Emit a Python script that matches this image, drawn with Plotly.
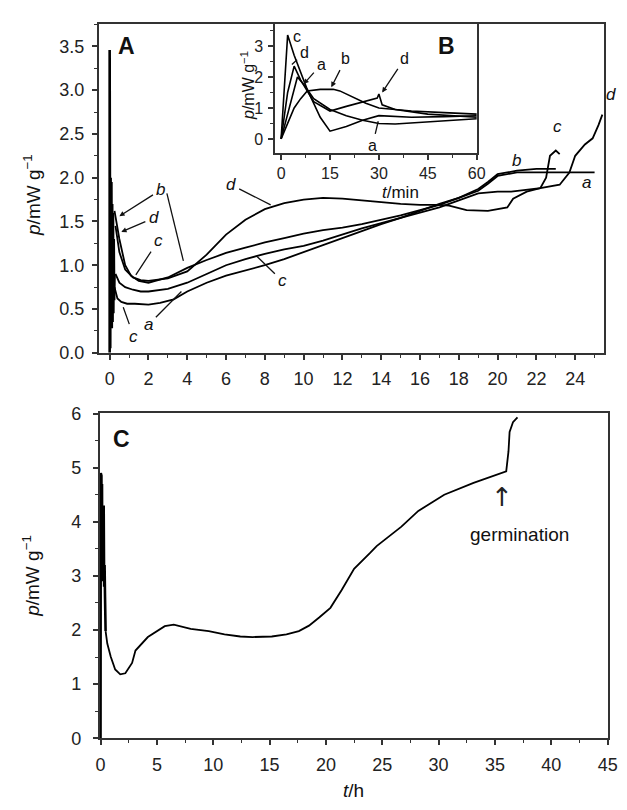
import plotly.graph_objects as go

# ---------------- Panel A (t in h) ----------------
spikeA_t = [0, 0, 0.03, 0.05, 0.07, 0.09, 0.11, 0.13, 0.15, 0.17, 0.19, 0.21, 0.23, 0.25]
spikeA_p = [0, 3.46, 0.05, 2.0, 0.3, 1.95, 0.28, 1.7, 0.35, 1.6, 0.45, 1.3, 0.6, 0.9]

a_t = [0.25, 0.4, 0.6, 0.9, 1.3, 2, 2.6, 3.3, 4, 5, 6, 7, 8, 9, 10, 11, 12, 13, 14, 15, 16, 17, 18, 19, 19.5, 20, 21, 22, 23, 24, 25]
a_p = [0.75, 0.62, 0.58, 0.56, 0.56, 0.55, 0.57, 0.61, 0.7, 0.8, 0.88, 0.94, 1.0, 1.07, 1.15, 1.23, 1.31, 1.39, 1.47, 1.54, 1.62, 1.70, 1.77, 1.85, 1.93, 2.02, 2.06, 2.06, 2.06, 2.06, 2.06]

b_t = [0.25, 0.5, 0.8, 1.1, 1.5, 2, 3, 4, 5, 6, 7, 8, 9, 10, 11, 12, 13, 14, 15, 16, 17, 18, 19, 19.5, 20, 21, 22, 23]
b_p = [1.62, 1.3, 1.0, 0.88, 0.82, 0.8, 0.86, 0.97, 1.06, 1.14, 1.2, 1.26, 1.31, 1.36, 1.40, 1.43, 1.47, 1.52, 1.57, 1.63, 1.69, 1.77, 1.87, 1.95, 2.04, 2.08, 2.1, 2.1]

c_t = [0.3, 0.5, 0.8, 1.2, 1.6, 2, 3, 4, 5, 6, 7, 8, 9, 10, 11, 12, 13, 14, 15, 16, 17, 18, 19, 20, 20.7, 22.2, 22.5, 22.7, 23.0, 23.2]
c_p = [0.9, 0.8, 0.75, 0.72, 0.7, 0.7, 0.73, 0.8, 0.9, 1.0, 1.07, 1.13, 1.18, 1.22, 1.28, 1.35, 1.42, 1.48, 1.54, 1.6, 1.66, 1.74, 1.82, 1.84, 1.84, 1.88, 2.0, 2.25, 2.31, 2.27]

d_t = [0.3, 0.5, 0.8, 1.2, 1.6, 2, 3, 4, 5, 6, 7, 8, 9, 10, 11, 12, 13, 14, 15, 16, 17, 17.5, 18.4, 19.5, 20.5, 20.8, 21.5, 22.2, 23.2, 23.7, 24, 24.5, 24.9, 25.2, 25.4]
d_p = [1.45, 1.15, 0.95, 0.86, 0.83, 0.82, 0.85, 0.93, 1.12, 1.35, 1.52, 1.64, 1.71, 1.75, 1.77, 1.76, 1.74, 1.72, 1.70, 1.69, 1.69, 1.68, 1.63, 1.62, 1.66, 1.76, 1.84, 1.88, 1.92, 2.06, 2.25, 2.38, 2.45, 2.6, 2.72]

# ---------------- Inset B (t in min) ----------------
Bc_t = [0, 1, 2, 4, 8, 12, 15, 20, 25, 30, 40, 50, 60]
Bc_p = [0, 1.8, 3.35, 2.7, 1.6, 0.7, 0.25, 0.4, 0.6, 0.75, 0.7, 0.72, 0.75]
Bd_t = [0, 2, 4, 6, 10, 15, 20, 25, 29.5, 30, 31, 35, 45, 60]
Bd_p = [0, 1.5, 2.35, 1.9, 1.2, 0.9, 1.05, 1.2, 1.32, 1.45, 1.1, 0.95, 0.8, 0.7]
Ba_t = [0, 2, 4, 5, 7, 10, 15, 20, 25, 30, 35, 45, 60]
Ba_p = [0, 0.8, 1.6, 2.0, 1.75, 1.3, 0.95, 0.75, 0.6, 0.5, 0.48, 0.55, 0.65]
Bb_t = [0, 2, 4, 6, 8, 12, 16, 18, 22, 26, 30, 40, 50, 60]
Bb_p = [0, 0.5, 1.0, 1.3, 1.55, 1.6, 1.6, 1.55, 1.35, 1.15, 1.0, 0.9, 0.85, 0.8]

# ---------------- Panel C (t in h) ----------------
spikeC_t = [0, 0.02, 0.05, 0.08, 0.1, 0.13, 0.16, 0.2, 0.24, 0.28, 0.32, 0.36, 0.4, 0.45]
spikeC_p = [0, 4.9, 2.9, 4.85, 3.0, 4.7, 2.9, 4.3, 3.0, 4.3, 2.8, 3.2, 2.6, 1.98]
C_t = [0.45, 0.6, 0.9, 1.3, 1.75, 2.2, 2.8, 3.1, 4.2, 5.0, 5.7, 6.5, 8, 9.6, 11, 12.4, 13.5, 15.2, 16.5, 17.6, 18.5, 19.4, 20.4, 21.4, 22.5, 23.9, 24.5, 25.6, 26.7, 28.2, 30.5, 33.1, 36, 36.2, 36.3, 36.6, 37.0]
C_p = [1.98, 1.75, 1.51, 1.27, 1.18, 1.2, 1.39, 1.62, 1.87, 1.98, 2.07, 2.1, 2.02, 1.98, 1.92, 1.88, 1.87, 1.88, 1.92, 1.98, 2.08, 2.23, 2.41, 2.74, 3.13, 3.42, 3.55, 3.73, 3.91, 4.2, 4.5, 4.72, 4.93, 5.3, 5.66, 5.84, 5.93]

FONT = "Liberation Sans, Arial, Helvetica, sans-serif"
LINE = dict(color="black", width=1.8)
SPIKE = dict(color="black", width=2.6)

fig = go.Figure()
fig.add_trace(go.Scatter(x=spikeA_t, y=spikeA_p, mode="lines", line=SPIKE, xaxis="x", yaxis="y", showlegend=False))
for t, p in [(a_t, a_p), (b_t, b_p), (c_t, c_p), (d_t, d_p)]:
    fig.add_trace(go.Scatter(x=t, y=p, mode="lines", line=LINE, xaxis="x", yaxis="y", showlegend=False))
for t, p in [(Bc_t, Bc_p), (Bd_t, Bd_p), (Ba_t, Ba_p), (Bb_t, Bb_p)]:
    fig.add_trace(go.Scatter(x=t, y=p, mode="lines", line=dict(color="black", width=1.6), xaxis="x2", yaxis="y2", showlegend=False))
fig.add_trace(go.Scatter(x=spikeC_t, y=spikeC_p, mode="lines", line=SPIKE, xaxis="x3", yaxis="y3", showlegend=False))
fig.add_trace(go.Scatter(x=C_t, y=C_p, mode="lines", line=LINE, xaxis="x3", yaxis="y3", showlegend=False))

W, H = 627, 810
def px(x0, x1):
    return [x0 / W, x1 / W]
def py(y_top, y_bot):
    return [1 - y_bot / H, 1 - y_top / H]

def ax(domain, rng, dtick, minor, anchor, size=18, **kw):
    d = dict(domain=domain, range=rng, dtick=dtick, tick0=0, anchor=anchor,
             showline=True, linewidth=2, linecolor="#333", mirror=True,
             ticks="outside", ticklen=5, tickwidth=1.5, tickcolor="#333",
             minor=dict(ticks="outside", ticklen=3, tickwidth=1, tickcolor="#333", dtick=minor, tick0=0),
             showgrid=False, zeroline=False, ticklabelstandoff=4,
             tickfont=dict(family=FONT, size=size, color="#222"))
    d.update(kw)
    return d

fig.update_layout(
    width=W, height=H, margin=dict(l=0, r=0, t=0, b=0),
    paper_bgcolor="white", plot_bgcolor="white",
    xaxis=ax(px(97, 613), [-0.55, 25.5], 2, 1, "y"),
    yaxis=ax(py(15, 352), [0, 3.76], 0.5, 0.25, "x", tickformat=".1f"),
    xaxis2=ax(px(277, 483), [-1.8, 60.1], 15, 7.5, "y2", size=16, ticklabelstandoff=0),
    yaxis2=ax(py(15, 147), [-0.44, 3.72], 1, 0.5, "x2", size=16, ticklabelstandoff=2),
    xaxis3=ax(px(98, 617), [-0.05, 45.05], 5, 2.5, "y3"),
    yaxis3=ax(py(414, 747), [-0.005, 6.005], 1, 0.5, "x3", ticklabelstandoff=8),
)

ann = []
def lab(text, x, y, xref, yref, size=17, **kw):
    d = dict(text=text, x=x, y=y, xref=xref, yref=yref, showarrow=False,
             xanchor="center", yanchor="middle",
             font=dict(family=FONT, size=size, color="#111"))
    d.update(kw)
    ann.append(d)

def ptr(text, x_lab, y_lab, x_tip, y_tip, xref, yref, size=17, head=2):
    ann.append(dict(text=text, x=x_tip, y=y_tip, ax=x_lab, ay=y_lab, axref=xref, ayref=yref,
                    xref=xref, yref=yref, showarrow=True, arrowhead=head, arrowsize=0.8,
                    arrowwidth=1.3, arrowcolor="#111", standoff=0, startstandoff=2,
                    font=dict(family=FONT, size=size, color="#111")))

# Panel letters
lab("<b>A</b>", 125 / W, 1 - 38 / H, "paper", "paper", size=23)
lab("<b>B</b>", 452 / W, 1 - 38 / H, "paper", "paper", size=23)
lab("<b>C</b>", 120 / W, 1 - 440 / H, "paper", "paper", size=23)

# Axis titles
ytitle = "<i>p</i>/mW g<sup>−1</sup>"
lab(ytitle, 28 / W, 1 - 190 / H, "paper", "paper", size=19, textangle=-90)
lab(ytitle, 28 / W, 1 - 580 / H, "paper", "paper", size=19, textangle=-90)
lab(ytitle, 249 / W, 1 - 78 / H, "paper", "paper", size=16, textangle=-90)
lab("<i>t</i>/min", 405 / W, 1 - 188 / H, "paper", "paper", size=17)
lab("<i>t</i>/h", 357 / W, 1 - 800 / H, "paper", "paper", size=19)

# Curve labels, panel A
ptr("<i>b</i>", 2.63, 1.86, 0.5, 1.56, "x", "y")
ptr("<i>d</i>", 2.27, 1.54, 0.6, 1.38, "x", "y")
ptr("<i>c</i>", 2.5, 1.28, 1.35, 0.89, "x", "y", head=0)
ptr("<i>a</i>", 2.0, 0.32, 3.7, 0.70, "x", "y", head=0)
ptr("<i>c</i>", 1.25, 0.18, 0.7, 0.52, "x", "y", head=0)
ptr("<i>d</i>", 6.25, 1.92, 8.3, 1.69, "x", "y", head=0)
ptr("<i>c</i>", 8.9, 0.82, 7.6, 1.1, "x", "y", head=0)
lab("<i>b</i>", 21.0, 2.2, "x", "y")
lab("<i>c</i>", 23.1, 2.58, "x", "y")
lab("<i>a</i>", 24.6, 1.94, "x", "y")
lab("<i>d</i>", 620 / W, 1 - 88 / H, "paper", "paper")

# Curve labels, inset B
lab("c", 4.8, 3.3, "x2", "y2", size=16)
ptr("d", 7.2, 2.78, 3.3, 2.4, "x2", "y2", size=16, head=0)
ptr("a", 12.3, 2.4, 6.9, 1.77, "x2", "y2", size=16)
ptr("b", 19.9, 2.6, 15.4, 1.67, "x2", "y2", size=16)
ptr("d", 38, 2.6, 31, 1.5, "x2", "y2", size=16)
ptr("a", 28, -0.22, 29.8, 0.57, "x2", "y2", size=16, head=0)

# Germination marker, panel C
lab("↑", 35.6, 4.45, "x3", "y3", size=26, font=dict(family="DejaVu Sans", size=26, color="#222"))
lab("germination", 37.2, 3.77, "x3", "y3", size=19)

shapes = [
    # second pointer of label b (panel A)
    dict(type="line", xref="x", yref="y", x0=2.95, y0=1.82, x1=3.8, y1=1.05,
         line=dict(color="#111", width=1.3)),
]

fig.update_layout(annotations=ann, shapes=shapes)
fig.write_html("out.html", config={"displayModeBar": False},
               post_script="document.body.style.margin='0';document.body.style.overflow='hidden';")
